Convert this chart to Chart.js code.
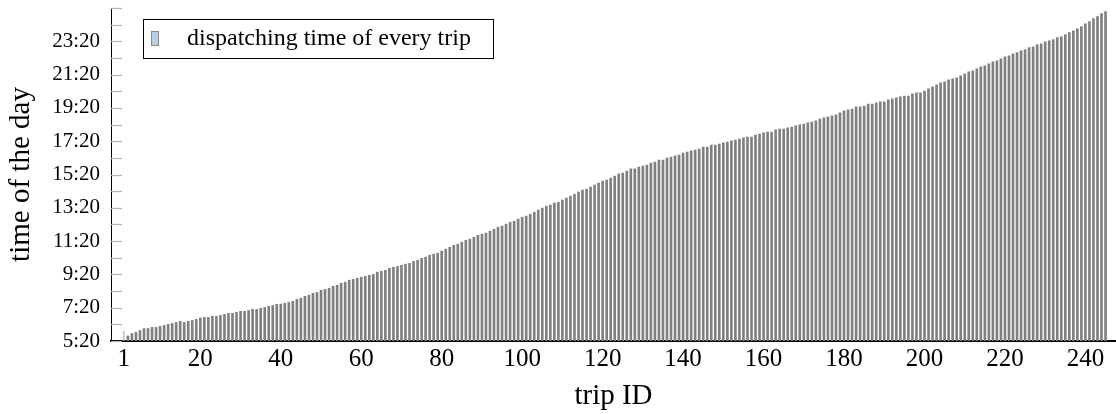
<!DOCTYPE html>
<html>
<head>
<meta charset="utf-8">
<script src="https://cdn.jsdelivr.net/npm/chart.js@4.4.1/dist/chart.umd.min.js"></script>
<style>
  html, body { margin: 0; padding: 0; background: #fff; }
  #wrap { width: 1116px; height: 414px; }
</style>
</head>
<body>
<div id="wrap"><canvas id="trips" width="1116" height="414"></canvas></div>
<script>
// dispatching time of every trip, in minutes after midnight
var dispatchMinutes = [
  322, 338, 347, 351, 358, 365, 365, 369, 369, 373,
  376, 380, 383, 387, 391, 387, 391, 394, 398, 403,
  405, 405, 409, 409, 412, 416, 420, 420, 423, 427,
  427, 430, 434, 434, 438, 441, 445, 448, 452, 453,
  456, 459, 463, 470, 474, 481, 485, 492, 495, 503,
  506, 510, 517, 521, 528, 532, 539, 542, 546, 550,
  553, 557, 560, 568, 571, 575, 582, 586, 589, 593,
  597, 600, 607, 611, 618, 622, 629, 633, 636, 644,
  651, 658, 665, 669, 676, 683, 687, 694, 701, 705,
  709, 716, 723, 730, 734, 741, 748, 752, 759, 766,
  770, 777, 784, 792, 799, 806, 810, 817, 820, 828,
  835, 842, 849, 857, 864, 867, 875, 882, 889, 896,
  900, 907, 914, 922, 925, 932, 940, 940, 947, 950,
  954, 961, 965, 972, 972, 979, 983, 987, 990, 997,
  1001, 1005, 1008, 1012, 1019, 1019, 1026, 1026, 1030, 1034,
  1037, 1041, 1044, 1048, 1052, 1055, 1055, 1062, 1066, 1070,
  1073, 1073, 1081, 1084, 1084, 1088, 1091, 1095, 1099, 1102,
  1106, 1109, 1113, 1120, 1124, 1128, 1131, 1135, 1142, 1149,
  1153, 1156, 1164, 1164, 1167, 1174, 1174, 1178, 1182, 1182,
  1189, 1193, 1196, 1200, 1203, 1203, 1211, 1214, 1214, 1221,
  1229, 1236, 1243, 1250, 1254, 1261, 1265, 1268, 1276, 1283,
  1290, 1294, 1301, 1308, 1312, 1319, 1326, 1330, 1337, 1344,
  1348, 1355, 1359, 1366, 1370, 1377, 1380, 1388, 1391, 1398,
  1402, 1406, 1413, 1416, 1424, 1431, 1438, 1445, 1453, 1463,
  1471, 1482, 1489, 1500, 1507
];
var tripIds = dispatchMinutes.map(function (v, i) { return i + 1; });

var xTickValues = [1, 20, 40, 60, 80, 100, 120, 140, 160, 180, 200, 220, 240];
var yTickValues = [320, 440, 560, 680, 800, 920, 1040, 1160, 1280, 1400];
var yTickLabels = ["5:20", "7:20", "9:20", "11:20", "13:20", "15:20", "17:20", "19:20", "21:20", "23:20"];

var serif = "'Liberation Serif', 'Times New Roman', serif";
Chart.defaults.font.family = serif;
Chart.defaults.color = "#000";

// pgfplots style tick marks pointing into the plot
var innerTicks = {
  id: "innerTicks",
  beforeDatasetsDraw: function (chart) {
    var ctx = chart.ctx, xs = chart.scales.x, a = chart.chartArea;
    ctx.save();
    ctx.strokeStyle = "#b4b4b4";
    ctx.lineWidth = 1.2;
    xTickValues.forEach(function (v) {
      var px = xs.getPixelForValue(v);
      ctx.beginPath();
      ctx.moveTo(px, a.bottom);
      ctx.lineTo(px, a.bottom - 10);
      ctx.stroke();
    });
    ctx.restore();
  },
  afterDatasetsDraw: function (chart) {
    var ctx = chart.ctx, ys = chart.scales.y, a = chart.chartArea;
    ctx.save();
    ctx.strokeStyle = "#b4b4b4";
    ctx.lineWidth = 1.2;
    for (var v = ys.min; v <= ys.max; v += 60) {
      var py = Math.round(ys.getPixelForValue(v)) + 0.5;
      ctx.beginPath();
      ctx.moveTo(a.left, py);
      ctx.lineTo(a.left + 11, py);
      ctx.stroke();
    }
    ctx.restore();
  }
};

// framed legend in the upper left corner
var boxLegend = {
  id: "boxLegend",
  afterDraw: function (chart) {
    var ctx = chart.ctx;
    var ds = chart.data.datasets[0];
    ctx.save();
    ctx.fillStyle = "#fff";
    ctx.fillRect(143, 19, 350, 39);
    ctx.strokeStyle = "#000";
    ctx.lineWidth = 1;
    ctx.strokeRect(143.5, 19.5, 350, 39);
    ctx.fillStyle = "#b9cde5";
    ctx.fillRect(151, 31, 7, 15);
    ctx.strokeStyle = "#8a8a8a";
    ctx.strokeRect(151.5, 31.5, 7, 14);
    ctx.fillStyle = "#000";
    ctx.font = "24px " + serif;
    ctx.textBaseline = "middle";
    ctx.fillText(ds.label, 187, 39);
    ctx.restore();
  }
};

new Chart(document.getElementById("trips"), {
  type: "bar",
  data: {
    datasets: [
      {
        label: "dispatching time of every trip",
        data: tripIds.map(function (id, i) {
          return { x: id, y: dispatchMinutes[i] };
        }),
        backgroundColor: "#808080",
        borderWidth: 0,
        barThickness: 2,
      },
    ],
  },
  options: {
    responsive: false,
    animation: false,
    layout: { padding: { top: 8, right: 0, bottom: 0, left: 0 } },
    plugins: {
      legend: { display: false },
      tooltip: { enabled: false },
    },
    scales: {
      x: {
        type: "linear",
        min: -2.2,
        max: 247.6,
        offset: false,
        grid: { display: false, drawTicks: false },
        border: { display: true, color: "#000", width: 2 },
        afterBuildTicks: function (scale) {
          scale.ticks = xTickValues.map(function (v) { return { value: v }; });
        },
        afterFit: function (scale) {
          scale.height = 73;
          scale.paddingLeft = 0;
          scale.paddingRight = 0;
        },
        ticks: {
          autoSkip: false,
          maxRotation: 0,
          padding: 3,
          font: { size: 25 },
          callback: function (v) { return String(v); },
        },
        title: {
          display: true,
          text: "trip ID",
          font: { size: 29, lineHeight: 1 },
          padding: 3,
        },
      },
      y: {
        type: "linear",
        min: 320,
        max: 1520,
        grid: { display: false, drawTicks: false },
        border: { display: true, color: "#000", width: 1 },
        afterBuildTicks: function (scale) {
          scale.ticks = yTickValues.map(function (v) { return { value: v }; });
        },
        afterFit: function (scale) {
          scale.width = 111;
          scale.paddingTop = 0;
          scale.paddingBottom = 0;
        },
        ticks: {
          padding: 11,
          font: { size: 21 },
          callback: function (v) {
            var i = yTickValues.indexOf(v);
            return i >= 0 ? yTickLabels[i] : "";
          },
        },
        title: {
          display: true,
          text: "time of the day",
          font: { size: 29, lineHeight: 1 },
          padding: 7,
        },
      },
    },
  },
  plugins: [innerTicks, boxLegend],
});
</script>
</body>
</html>
